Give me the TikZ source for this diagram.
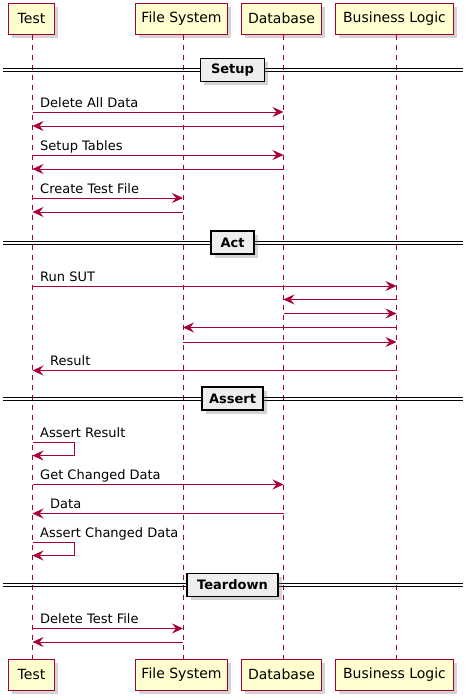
\documentclass[tikz,border=0pt]{standalone}
\usepackage{fontspec}
\setmainfont{DejaVu Sans}
\usetikzlibrary{arrows.meta,shadows}
\definecolor{pred}{HTML}{A80036}
\definecolor{pfill}{HTML}{FEFECE}
\definecolor{sepfill}{HTML}{EEEEEE}
\begin{document}
\begin{tikzpicture}[x=1pt,y=-1pt,
 part/.style={draw=pred, line width=1pt, fill=pfill, font=\fontsize{14}{16}\selectfont,
   minimum height=30.5pt, inner sep=0pt, anchor=north west,
   drop shadow={shadow xshift=3.5pt,shadow yshift=-3.5pt,opacity=0.35}},
 life/.style={pred, dash pattern=on 5pt off 5pt, line width=0.8pt},
 msg/.style={pred, line width=0.9pt, -{Stealth[length=11pt,width=10pt,inset=4pt]}},
 lbl/.style={font=\fontsize{13}{15}\selectfont, anchor=base west, inner sep=0pt},
 sepbox/.style={draw=black, line width=1.5pt, fill=sepfill, font=\bfseries\fontsize{13}{15}\selectfont,
   minimum height=23pt, inner sep=0pt,
   drop shadow={shadow xshift=3.5pt,shadow yshift=-3.5pt,opacity=0.35}},
 sepline/.style={black, line width=0.9pt}]
\useasboundingbox (0,0) rectangle (473,699);
% participants
\node[part, minimum width=46pt] (T) at (8,3) {Test};
\node[part, minimum width=92pt] (F) at (135,3) {File System};
\node[part, minimum width=80pt] (D) at (241,3) {Database};
\node[part, minimum width=118pt] (B) at (335,3) {Business Logic};
\node[part, minimum width=46pt] (Tb) at (8,659) {Test};
\node[part, minimum width=92pt] (Fb) at (135,659) {File System};
\node[part, minimum width=80pt] (Db) at (241,659) {Database};
\node[part, minimum width=118pt] (Bb) at (335,659) {Business Logic};
% lifeline x positions
\coordinate (LT) at (32.5,0);
\coordinate (LF) at (183,0);
\coordinate (LD) at (283.5,0);
\coordinate (LB) at (396.5,0);
\draw[life] (T.south -| LT) -- (Tb.north -| LT);
\draw[life] (F.south -| LF) -- (Fb.north -| LF);
\draw[life] (D.south -| LD) -- (Db.north -| LD);
\draw[life] (B.south -| LB) -- (Bb.north -| LB);
% separators
\foreach \y/\t/\w/\n in {70/Setup/64/s1, 242.5/Act/43/s2, 398.5/Assert/61/s3, 585/Teardown/91/s4}{
  \draw[sepline] (3,\y-1.5) -- (463,\y-1.5);
  \draw[sepline] (3,\y+1.5) -- (463,\y+1.5);
  \node[sepbox, minimum width=\w pt] (\n) at (232.5,\y) {\t};
}
% message rows
\foreach \n/\y in {r1/112, r2/126, r3/155, r4/169, r5/198, r6/212, r7/286, r8/299.5, r9/313.5,
  r10/327.5, r11/342, r12/370.5, a1/442.5, a1e/455.5, r13/484.5, r14/513.5, a2/542.5, a2e/555.5,
  r15/628.5, r16/642}{
  \coordinate (\n) at (0,\y);
}
\draw[msg] (LT |- r1) -- (LD |- r1);
\node[lbl] at ([xshift=7.5pt,yshift=5pt]LT |- r1) {Delete All Data};
\draw[msg] (LD |- r2) -- (LT |- r2);
\draw[msg] (LT |- r3) -- (LD |- r3);
\node[lbl] at ([xshift=7.5pt,yshift=5pt]LT |- r3) {Setup Tables};
\draw[msg] (LD |- r4) -- (LT |- r4);
\draw[msg] (LT |- r5) -- (LF |- r5);
\node[lbl] at ([xshift=7.5pt,yshift=5pt]LT |- r5) {Create Test File};
\draw[msg] (LF |- r6) -- (LT |- r6);
\draw[msg] (LT |- r7) -- (LB |- r7);
\node[lbl] at ([xshift=7.5pt,yshift=5pt]LT |- r7) {Run SUT};
\draw[msg] (LB |- r8) -- (LD |- r8);
\draw[msg] (LD |- r9) -- (LB |- r9);
\draw[msg] (LB |- r10) -- (LF |- r10);
\draw[msg] (LF |- r11) -- (LB |- r11);
\draw[msg] (LB |- r12) -- (LT |- r12);
\node[lbl] at ([xshift=17.5pt,yshift=5pt]LT |- r12) {Result};
\draw[msg] (LT |- a1) -- ++(42,0) |- (LT |- a1e);
\node[lbl] at ([xshift=7.5pt,yshift=5.5pt]LT |- a1) {Assert Result};
\draw[msg] (LT |- r13) -- (LD |- r13);
\node[lbl] at ([xshift=7.5pt,yshift=5pt]LT |- r13) {Get Changed Data};
\draw[msg] (LD |- r14) -- (LT |- r14);
\node[lbl] at ([xshift=17.5pt,yshift=5pt]LT |- r14) {Data};
\draw[msg] (LT |- a2) -- ++(42,0) |- (LT |- a2e);
\node[lbl] at ([xshift=7.5pt,yshift=5.5pt]LT |- a2) {Assert Changed Data};
\draw[msg] (LT |- r15) -- (LF |- r15);
\node[lbl] at ([xshift=7.5pt,yshift=5pt]LT |- r15) {Delete Test File};
\draw[msg] (LF |- r16) -- (LT |- r16);
\end{tikzpicture}
\end{document}
